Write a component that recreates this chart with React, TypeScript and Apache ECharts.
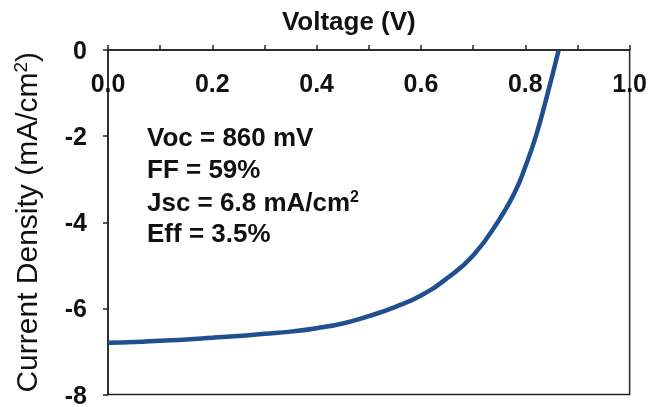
import React, { useEffect, useRef } from "react";
import * as echarts from "echarts";

const voltage = [0, 0.05, 0.1, 0.15, 0.2, 0.25, 0.3, 0.35, 0.4, 0.45, 0.5, 0.55, 0.6, 0.65, 0.7, 0.75, 0.78, 0.8, 0.82, 0.84, 0.864];
const current = [-6.8, -6.78, -6.75, -6.72, -6.68, -6.64, -6.59, -6.54, -6.46, -6.35, -6.18, -5.97, -5.7, -5.3, -4.77, -3.94, -3.3, -2.71, -2.01, -1.14, 0];
const xTitle = "Voltage (V)";
const yTitle = "Current Density (mA/cm{sup|2})";
const annotations = ["Voc = 860 mV", "FF = 59%", "Jsc = 6.8 mA/cm{sup|2}", "Eff = 3.5%"];

const FONT = "'Liberation Sans', Arial, sans-serif";

export default function App() {
  const ref = useRef<HTMLDivElement>(null);
  useEffect(() => {
    const chart = echarts.init(ref.current!, undefined, { renderer: "svg" });
    const data = voltage.map((v, i) => [v, current[i]]);
    chart.setOption({
      animation: false,
      grid: { left: 108, right: 19, top: 50, bottom: 12, show: true, borderColor: "#222", borderWidth: 1.5 },
      xAxis: {
        type: "value",
        position: "top",
        min: 0,
        max: 1,
        interval: 0.1,
        name: xTitle,
        nameLocation: "middle",
        nameGap: 16,
        nameTextStyle: { fontFamily: FONT, fontWeight: "bold", fontSize: 26, color: "#111", padding: [0, 40, 0, 0] },
        axisLine: { show: true, onZero: false, lineStyle: { color: "#222", width: 1.5 } },
        axisTick: { show: true, inside: false, length: 5, lineStyle: { color: "#222", width: 1.5 } },
        axisLabel: {
          inside: true,
          margin: 20,
          fontFamily: FONT,
          fontWeight: "bold",
          fontSize: 25,
          color: "#111",
          showMinLabel: true,
          showMaxLabel: true,
          formatter: (v: number) => (Math.round(v * 10) % 2 === 0 ? v.toFixed(1) : ""),
        },
        splitLine: { show: false },
      },
      yAxis: {
        type: "value",
        min: -8,
        max: 0,
        interval: 2,
        name: yTitle,
        nameLocation: "middle",
        nameGap: 66,
        nameRotate: 90,
        nameTextStyle: {
          fontFamily: FONT,
          fontSize: 30,
          color: "#111",
          rich: { sup: { fontSize: 19, verticalAlign: "top", fontFamily: FONT, color: "#111", padding: [0, 0, 12, 0] } },
        },
        axisLine: { show: true, onZero: false, lineStyle: { color: "#222", width: 1.5 } },
        axisTick: { show: true, inside: false, length: 5, lineStyle: { color: "#222", width: 1.5 } },
        axisLabel: { margin: 21, fontFamily: FONT, fontWeight: "bold", fontSize: 25, color: "#111" },
        splitLine: { show: false },
      },
      series: [
        {
          type: "line",
          data,
          smooth: true,
          showSymbol: false,
          lineStyle: { color: "#1f4f8f", width: 4.5 },
        },
      ],
      graphic: annotations.map((t, i) => ({
        type: "text",
        left: 147,
        top: 124 + i * 32,
        style: {
          text: t,
          fontFamily: FONT,
          fontWeight: "bold",
          fontSize: 26,
          fill: "#111",
          rich: { sup: { fontSize: 16, fontWeight: "bold", fontFamily: FONT, fill: "#111", padding: [0, 0, 12, 0] } },
        },
      })),
    });
    return () => chart.dispose();
  }, []);
  return <div ref={ref} style={{ position: "fixed", left: 0, top: 0, width: 650, height: 407 }} />;
}
